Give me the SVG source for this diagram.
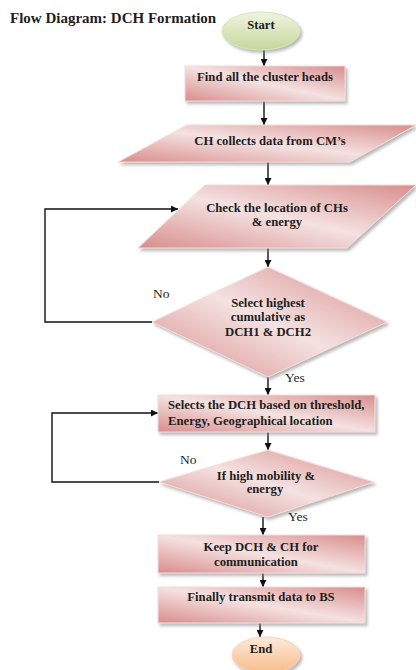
<svg xmlns="http://www.w3.org/2000/svg" width="416" height="670" viewBox="0 0 416 670">
<style>
.t{font-family:"Liberation Serif","Times New Roman",serif;font-weight:bold;font-size:12.7px;fill:#1e1e1e;text-anchor:middle}
.l{font-family:"Liberation Serif","Times New Roman",serif;font-size:13.5px;fill:#1e1e1e}
.title{font-family:"Liberation Serif","Times New Roman",serif;font-weight:bold;font-size:15px;fill:#1e1e1e}
.pink{fill:url(#gp);stroke:#f3dcdc;stroke-width:1;filter:url(#sh)}
.c{fill:none;stroke:#111;stroke-width:1.4}
</style>
<defs>
<linearGradient id="gp" x1="0" y1="1" x2="1" y2="0">
<stop offset="0" stop-color="#d88d8c"/>
<stop offset="0.5" stop-color="#f4e2e1"/>
<stop offset="1" stop-color="#d88d8c"/>
</linearGradient>
<linearGradient id="gg" x1="0" y1="0" x2="0" y2="1">
<stop offset="0" stop-color="#eef4e0"/>
<stop offset="1" stop-color="#c5d89c"/>
</linearGradient>
<linearGradient id="go" x1="0" y1="0" x2="0" y2="1">
<stop offset="0" stop-color="#fde9d9"/>
<stop offset="1" stop-color="#f8bc8a"/>
</linearGradient>
<filter id="sh" x="-10%" y="-10%" width="125%" height="135%">
<feDropShadow dx="2" dy="2.5" stdDeviation="1.5" flood-color="#888" flood-opacity="0.6"/>
</filter>
<marker id="ah" viewBox="0 0 10 10" refX="10" refY="5" markerWidth="7" markerHeight="7" markerUnits="userSpaceOnUse" orient="auto">
<path d="M0,0 L10,5 L0,10 z" fill="#111"/>
</marker>
</defs>
<text class="title" x="10" y="23">Flow Diagram: DCH Formation</text>
<g id="connectors">
<line class="c" x1="264" y1="50" x2="264" y2="66" marker-end="url(#ah)"/>
<line class="c" x1="264" y1="101" x2="264" y2="125" marker-end="url(#ah)"/>
<line class="c" x1="268" y1="162" x2="268" y2="185" marker-end="url(#ah)"/>
<line class="c" x1="268" y1="248" x2="268" y2="267" marker-end="url(#ah)"/>
<polyline class="c" points="152,322 45,322 45,209 178,209" marker-end="url(#ah)"/>
<line class="c" x1="268" y1="377" x2="268" y2="395" marker-end="url(#ah)"/>
<line class="c" x1="268" y1="432" x2="268" y2="450" marker-end="url(#ah)"/>
<polyline class="c" points="159,482 52,482 52,413 158,413" marker-end="url(#ah)"/>
<line class="c" x1="263" y1="517" x2="263" y2="535" marker-end="url(#ah)"/>
<line class="c" x1="263" y1="573" x2="263" y2="587" marker-end="url(#ah)"/>
<line class="c" x1="260" y1="623" x2="260" y2="637" marker-end="url(#ah)"/>
</g>
<g id="start">
<ellipse cx="261" cy="31" rx="39" ry="19" fill="url(#gg)" stroke="#d6e3bc" filter="url(#sh)"/>
<text class="t" x="261" y="29">Start</text>
</g>
<g id="find">
<rect class="pink" x="185" y="66" width="160" height="35"/>
<text class="t" x="265" y="81">Find all the cluster heads</text>
</g>
<g id="collect">
<polygon class="pink" points="187,125 416,125 350,162 118,162"/>
<text class="t" x="270" y="145">CH collects data from CM’s</text>
</g>
<g id="check">
<polygon class="pink" points="205,185 416,185 347,248 138,248"/>
<text class="t" x="277" y="212">Check the location of CHs</text>
<text class="t" x="277" y="226">&amp; energy</text>
</g>
<g id="select">
<polygon class="pink" points="268,267 387,322 268,377 152,322"/>
<text class="t" x="268" y="307">Select highest</text>
<text class="t" x="268" y="321">cumulative as</text>
<text class="t" x="268" y="336">DCH1 &amp; DCH2</text>
<text class="l" x="153" y="298">No</text>
<text class="l" x="285" y="382">Yes</text>
</g>
<g id="selects">
<rect class="pink" x="158" y="395" width="217" height="37"/>
<text class="t" x="168" y="409" style="text-anchor:start">Selects the DCH based on threshold,</text>
<text class="t" x="168" y="425" style="text-anchor:start">Energy, Geographical location</text>
</g>
<g id="mobility">
<polygon class="pink" points="268,450 374,482 268,517 159,482"/>
<text class="t" x="266" y="480">If high mobility &amp;</text>
<text class="t" x="265" y="493">energy</text>
<text class="l" x="180" y="464">No</text>
<text class="l" x="288" y="521">Yes</text>
</g>
<g id="keep">
<rect class="pink" x="158" y="535" width="207" height="38"/>
<text class="t" x="261" y="551">Keep DCH &amp; CH for</text>
<text class="t" x="256" y="566">communication</text>
</g>
<g id="transmit">
<rect class="pink" x="158" y="587" width="207" height="36"/>
<text class="t" x="261" y="601">Finally transmit data to BS</text>
</g>
<g id="end">
<ellipse cx="266" cy="655" rx="34" ry="18" fill="url(#go)" stroke="#fbd4b4" filter="url(#sh)"/>
<text class="t" x="261" y="653">End</text>
</g>
</svg>
